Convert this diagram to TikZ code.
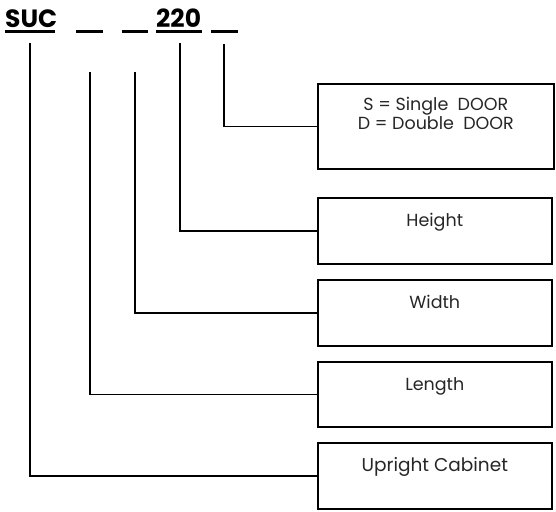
\documentclass[tikz,border=0pt]{standalone}
\usepackage{fontspec}
\setmainfont{Poppins}
\begin{document}
\begin{tikzpicture}[x=1pt,y=-1pt,
  conn/.style={line width=1.6pt},
  box/.style={draw, line width=1.6pt, inner sep=0pt, anchor=north west, minimum width=234pt, minimum height=66pt},
  lbl/.style={inner sep=0pt, font=\fontsize{17.5}{18.5}\selectfont, text=black!85},
  ttl/.style={inner sep=0pt, anchor=base west, font=\fontsize{25}{28}\selectfont\bfseries},
  uline/.style={line width=3pt}]
\useasboundingbox (0,0) rectangle (556,511);
% title
\node[ttl] (suc) at (5,28) {SUC};
\node[ttl] (num) at (156,28) {220};
\draw[uline] (5,32) -- (55,32);
\draw[uline] (76,32) -- (103,32);
\draw[uline] (122,32) -- (148,32);
\draw[uline] (156,32) -- (202,32);
\draw[uline] (211,32) -- (238,32);
% boxes
\node[box, minimum width=236pt, minimum height=85pt] (door) at (317,83) {};
\node[box] (height) at (317,197) {};
\node[box] (width) at (317,279) {};
\node[box, minimum height=65pt] (length) at (317,361) {};
\node[box] (cab) at (317,442) {};
% labels
\node[lbl, align=center, anchor=north] (doort) at ([yshift=-14pt]door.north) {S = Single\ \ DOOR\\D = Double\ \ DOOR};
\node[lbl, anchor=base] (heightt) at ([yshift=-29pt]height.north) {Height};
\node[lbl, anchor=base] (widtht) at ([yshift=-29pt]width.north) {Width};
\node[lbl, anchor=base] (lengtht) at ([yshift=-29pt]length.north) {Length};
\node[lbl, anchor=base, font=\fontsize{18.5}{18.5}\selectfont] (cabt) at ([yshift=-29pt]cab.north) {Upright Cabinet};
% connector tops
\coordinate (c1) at (30,43);
\coordinate (c2) at (90,72);
\coordinate (c3) at (135,72);
\coordinate (c4) at (180,43);
\coordinate (c5) at (224,44);
\draw[conn] (c1) |- (cab.west);
\draw[conn] (c2) |- (length.west);
\draw[conn] (c3) |- (width.west);
\draw[conn] (c4) |- (height.west);
\draw[conn] (c5) |- (door.west);
\end{tikzpicture}
\end{document}
